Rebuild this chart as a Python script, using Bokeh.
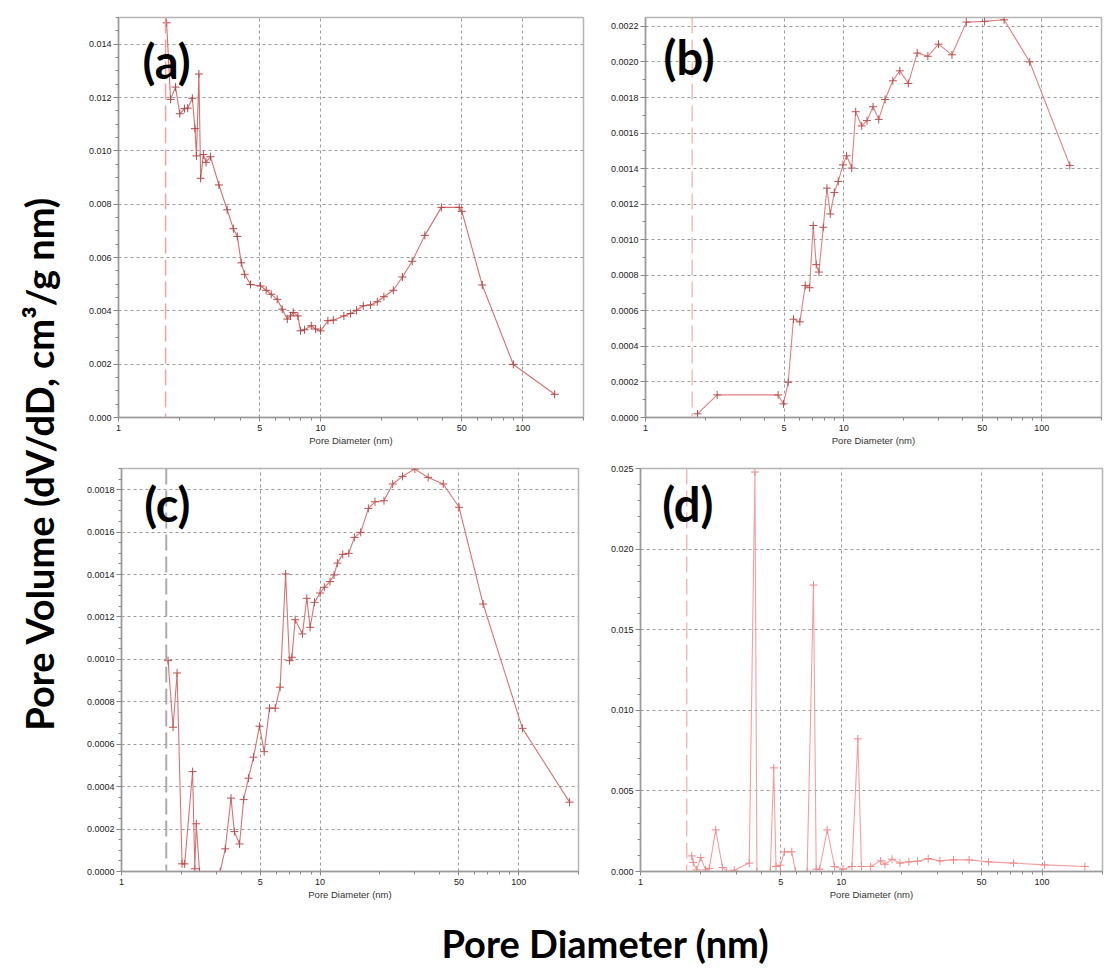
from bokeh.plotting import figure
from bokeh.layouts import row, column
from bokeh.models import FixedTicker, NumeralTickFormatter, Span, Label, Range1d
from bokeh.embed import file_html
from bokeh.resources import INLINE

# ---------------- data ----------------
a_x = [1.73, 1.81, 1.915, 2.01, 2.12, 2.20, 2.32, 2.39, 2.43, 2.50, 2.55, 2.63, 2.71, 2.85,
       3.14, 3.45, 3.70, 3.87, 4.05, 4.21, 4.50, 5.05, 5.38, 5.70, 6.10, 6.46, 6.84, 7.10,
       7.32, 7.72, 7.96, 8.33, 8.99, 9.45, 10.0, 10.87, 11.56, 13.04, 14.08, 15.07, 16.27,
       17.68, 19.08, 20.57, 22.9, 25.4, 28.4, 32.8, 39.6, 48.5, 50.0, 63.1, 89.9, 144.0]
a_y = [0.0148, 0.01193, 0.01239, 0.01139, 0.01158, 0.0116, 0.01197, 0.01083, 0.00981, 0.01288,
       0.00897, 0.00986, 0.00957, 0.00978, 0.00872, 0.00779, 0.00708, 0.00679, 0.0058, 0.00537,
       0.00499, 0.00493, 0.00477, 0.00462, 0.00443, 0.00406, 0.00369, 0.00381, 0.00394, 0.00381,
       0.00325, 0.00329, 0.00344, 0.00332, 0.00325, 0.00363, 0.00365, 0.00381, 0.0039, 0.00402,
       0.00419, 0.00422, 0.00434, 0.00453, 0.00477, 0.00527, 0.00586, 0.00683, 0.00788, 0.00788,
       0.00773, 0.00497, 0.00199, 0.00087]

b_x = [1.83, 2.30, 4.67, 4.97, 5.25, 5.58, 6.01, 6.40, 6.73, 7.02, 7.27, 7.50, 7.89, 8.23,
       8.56, 8.97, 9.39, 9.92, 10.35, 10.98, 11.50, 12.33, 13.12, 14.07, 15.03, 16.18, 17.7,
       19.2, 21.2, 23.5, 26.6, 30.1, 35.2, 41.6, 51.4, 64.5, 86.9, 138.4]
b_y = [0.0000205, 0.000127, 0.000127, 0.0000766, 0.000198, 0.000553, 0.000538, 0.000743,
       0.00073, 0.00108, 0.00086, 0.000818, 0.00107, 0.00129, 0.001145, 0.001266, 0.001328,
       0.001421, 0.001472, 0.001403, 0.00172, 0.00164, 0.00167, 0.001748, 0.001677, 0.001789,
       0.001894, 0.00195, 0.001879, 0.00205, 0.002032, 0.0021, 0.00204, 0.002224, 0.002228,
       0.002237, 0.0020, 0.001418]

c_x = [1.716, 1.818, 1.905, 2.018, 2.08, 2.28, 2.34, 2.38, 2.47, 3.14, 3.33, 3.56, 3.70, 3.93,
       4.12, 4.36, 4.62, 4.95, 5.23, 5.56, 5.94, 6.29, 6.70, 7.01, 7.21, 7.49, 8.15, 8.57, 8.91,
       9.37, 10.0, 10.5, 11.22, 11.76, 12.22, 13.0, 13.94, 14.88, 16.01, 17.5, 18.9, 20.97,
       23.2, 26.0, 30.0, 35.0, 41.7, 50.1, 66.2, 104.4, 180.4]
c_y = [0.000994, 0.00068, 0.000936, 0.0000361, 0.000036, 0.000471, 0.0000126, 0.000225, 0.0,
       0.0, 0.000107, 0.000346, 0.000188, 0.00013, 0.000339, 0.00044, 0.000539, 0.000685,
       0.000565, 0.00077, 0.00077, 0.000869, 0.001403, 0.000994, 0.00101, 0.001187, 0.00112,
       0.001288, 0.001151, 0.001269, 0.001313, 0.00134, 0.001367, 0.001398, 0.001454, 0.001495,
       0.0015, 0.001575, 0.001599, 0.001712, 0.001743, 0.001748, 0.001827, 0.001863, 0.001897,
       0.001858, 0.001827, 0.001717, 0.001261, 0.000675, 0.000327]

d_x = [1.80, 1.83, 1.905, 1.995, 2.11, 2.20, 2.37, 2.56, 2.69, 2.93, 3.48, 3.715, 3.80, 4.43,
       4.61, 4.73, 4.97, 5.21, 5.67, 5.91, 6.76, 7.27, 7.50, 7.80, 8.51, 9.26, 10.2, 11.3, 12.1,
       12.6, 14.0, 15.7, 16.5, 17.9, 19.6, 21.7, 24.0, 27.1, 31.0, 36.2, 43.3, 54.1, 72.1, 103.0,
       163.4]
d_y = [0.00097, 0.00056, 0.0001, 0.00087, 0.0001, 0.00019, 0.00258, 0.00025, 0.0, 0.00008,
       0.00052, 0.02478, 0.0, 0.0, 0.00643, 0.00031, 0.00039, 0.00122, 0.00122, 0.0, 0.0,
       0.01777, 0.00014, 0.00014, 0.00258, 0.00031, 0.00014, 0.00031, 0.00823, 0.00031, 0.00031,
       0.00066, 0.00045, 0.00076, 0.00052, 0.0006, 0.00064, 0.0008, 0.00066, 0.00072, 0.00072,
       0.0006, 0.00052, 0.00041, 0.00031]

x_ticks = [1, 5, 10, 50, 100]
x_minor = [2, 3, 4, 6, 7, 8, 9, 20, 30, 40, 60, 70, 80, 90, 200]
a_yticks = [0.000, 0.002, 0.004, 0.006, 0.008, 0.010, 0.012, 0.014]
b_yticks = [0.0000, 0.0002, 0.0004, 0.0006, 0.0008, 0.0010, 0.0012, 0.0014, 0.0016, 0.0018,
            0.0020, 0.0022]
c_yticks = [0.0000, 0.0002, 0.0004, 0.0006, 0.0008, 0.0010, 0.0012, 0.0014, 0.0016, 0.0018]
d_yticks = [0.000, 0.005, 0.010, 0.015, 0.020, 0.025]
a_yminor = [i * 0.0005 for i in range(31)]
b_yminor = [i * 0.0001 for i in range(23)]
c_yminor = [i * 0.00005 for i in range(39)]
d_yminor = [i * 0.001 for i in range(26)]
x_start, x_end = 1, 200
a_ymax, b_ymax, c_ymax, d_ymax = 0.015, 0.00225, 0.0019, 0.025
cutoff = [1.71, 1.72, 1.68, 1.70]
panel_labels = ["(a)", "(b)", "(c)", "(d)"]
label_xy = [(1.73, 0.01338), (1.66, 0.002026), (1.70, 0.001733), (1.72, 0.0228)]

AX_FONT = "Liberation Sans"
BIG_FONT = "Lato"


def panel(xs, ys, yticks, yminor, yfmt, ymax, w, h, bl, br, bt, bb, lab, lab_xy,
          cut, line_col, mark_col, cut_col, cut_w):
    p = figure(width=w, height=h, x_axis_type="log",
               x_range=Range1d(x_start, x_end), y_range=Range1d(0, ymax),
               output_backend="svg", toolbar_location=None,
               min_border_left=bl, min_border_right=br, min_border_top=bt,
               min_border_bottom=bb)
    p.outline_line_color = "#b5b5b5"
    p.outline_line_width = 1.5
    p.background_fill_color = "white"
    p.border_fill_color = "white"

    p.xaxis.ticker = FixedTicker(ticks=x_ticks, minor_ticks=x_minor)
    p.xaxis.formatter = NumeralTickFormatter(format="0")
    p.yaxis.ticker = FixedTicker(ticks=yticks, minor_ticks=yminor)
    p.yaxis.formatter = NumeralTickFormatter(format=yfmt)
    p.xaxis.axis_label = "Pore Diameter (nm)"
    for ax in (p.xaxis[0], p.yaxis[0]):
        ax.axis_line_color = "#9a9a9a"
        ax.axis_line_width = 1.5
        ax.major_tick_line_color = "#888888"
        ax.minor_tick_line_color = "#888888"
        ax.major_tick_in = 0
        ax.minor_tick_in = 0
        ax.major_label_text_font = AX_FONT
        ax.major_label_text_font_size = "9px"
        ax.major_label_text_color = "#222222"
    p.xaxis.major_tick_out = 4
    p.xaxis.minor_tick_out = 3
    p.yaxis.major_tick_out = 5
    p.yaxis.minor_tick_out = 3
    p.xaxis.major_label_standoff = 3
    p.yaxis.major_label_standoff = 2
    p.xaxis.axis_label_text_font = AX_FONT
    p.xaxis.axis_label_text_font_size = "9.5px"
    p.xaxis.axis_label_text_font_style = "normal"
    p.xaxis.axis_label_text_color = "#333333"
    p.xaxis.axis_label_standoff = 1

    p.grid.grid_line_color = "#9a9a9a"
    p.grid.grid_line_dash = "3 3"
    p.grid.grid_line_width = 1

    p.add_layout(Span(location=cut, dimension="height", line_color=cut_col,
                      line_dash="16 6", line_width=cut_w))
    p.line(xs, ys, line_color=line_col, line_width=1.1)
    p.scatter(xs, ys, marker="cross", size=8, line_color=mark_col, line_width=1)
    p.add_layout(Label(x=lab_xy[0], y=lab_xy[1], text=lab, text_font=BIG_FONT,
                       text_font_style="bold", text_font_size="47px", text_color="black",
                       text_align="center", text_baseline="middle"))
    return p


fa = panel(a_x, a_y, a_yticks, a_yminor, "0.000", a_ymax, 530, 455, 48, 17, 14, 38,
           panel_labels[0], label_xy[0], cutoff[0], "#d66f6f", "#b04848", "#f0a0a0", 1.5)
fb = panel(b_x, b_y, b_yticks, b_yminor, "0.0000", b_ymax, 504, 455, 45, 3, 17, 36,
           panel_labels[1], label_xy[1], cutoff[1], "#e08080", "#b85050", "#f2b0b0", 1.3)
fc = panel(c_x, c_y, c_yticks, c_yminor, "0.0000", c_ymax, 525, 452, 51, 17, 13, 36,
           panel_labels[2], label_xy[2], cutoff[2], "#d97373", "#c05050", "#aaaaaa", 2)
fd = panel(d_x, d_y, d_yticks, d_yminor, "0.000", d_ymax, 509, 452, 45, 2, 12, 36,
           panel_labels[3], label_xy[3], cutoff[3], "#f4a0a0", "#f08888", "#f2b0b0", 1.3)


def text_fig(w, h, txt, tx, ty, angle):
    f = figure(width=w, height=h, x_range=Range1d(0, 1), y_range=Range1d(0, 1),
               x_axis_type=None, y_axis_type=None, output_backend="svg",
               toolbar_location=None, min_border=0)
    f.outline_line_color = None
    f.grid.visible = False
    f.add_layout(Label(x=tx, y=ty, text=txt, text_font=BIG_FONT, text_font_style="bold",
                       text_font_size="38px", text_color="black", angle=angle,
                       text_align="center", text_baseline="middle"))
    return f


ylab = text_fig(70, 907, "Pore Volume (dV/dD, cm\u00b3/g nm)", 0.543, 0.4895, 1.5707963)
xlab = text_fig(1104, 62, "Pore Diameter (nm)", 0.548, 0.43, 0)

grid = column(row(fa, fb), row(fc, fd))
layout = column(row(ylab, grid), xlab)

open("out.html", "w").write(file_html(layout, INLINE))
